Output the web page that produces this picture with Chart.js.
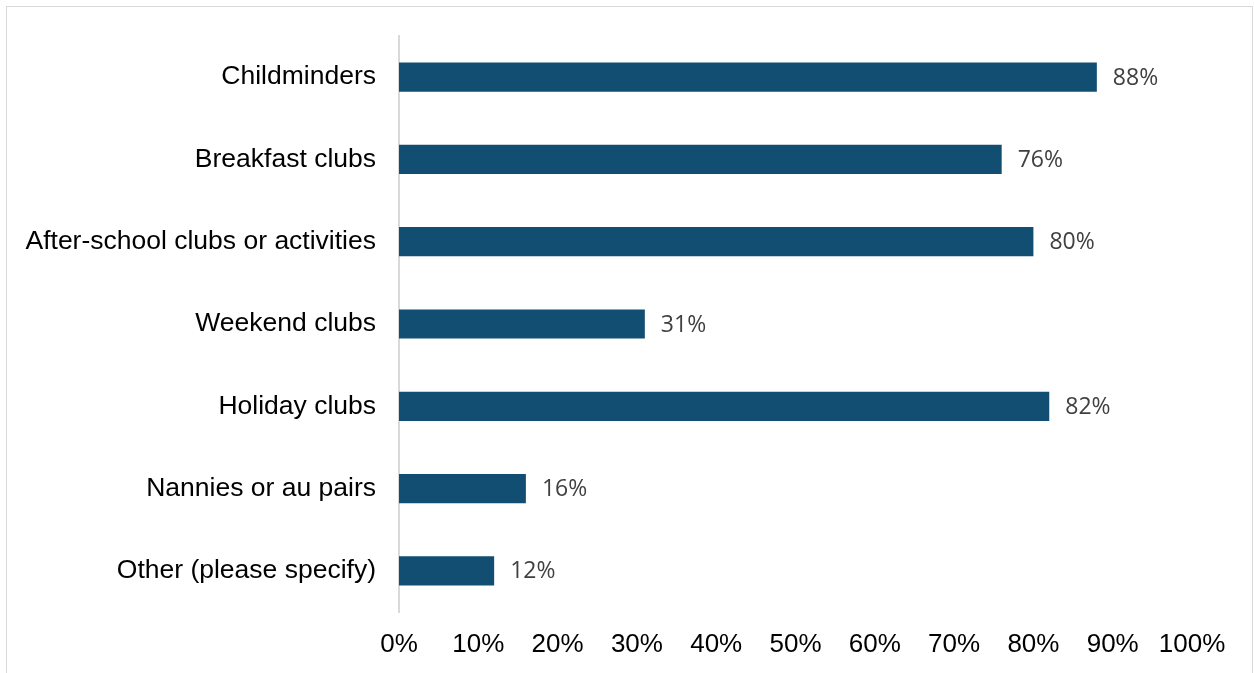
<!DOCTYPE html>
<html>
<head>
<meta charset="utf-8">
<title>Childcare types</title>
<script src="https://cdn.jsdelivr.net/npm/chart.js@4/dist/chart.umd.min.js"></script>
<style>
  html, body { margin: 0; padding: 0; background: #fff; }
  #wrap { position: relative; width: 1254px; height: 673px; }
</style>
</head>
<body>
<div id="wrap"><canvas id="childcare-types" width="1254" height="673"></canvas></div>
<script>
// provider types and the share of respondents for each
const categories = [
  'Childminders',
  'Breakfast clubs',
  'After-school clubs or activities',
  'Weekend clubs',
  'Holiday clubs',
  'Nannies or au pairs',
  'Other (please specify)'
];
const shares = [88, 76, 80, 31, 82, 16, 12];
const axisTicks = [0, 10, 20, 30, 40, 50, 60, 70, 80, 90, 100];

const barColour = '#114e72';

// light grey frame round the chart
const pluginFrame = {
  id: 'frame',
  beforeDraw: (chart) => {
    const ctx = chart.ctx;
    ctx.save();
    ctx.strokeStyle = '#d9d9d9';
    ctx.lineWidth = 1;
    ctx.strokeRect(6.5, 6.5, 1246, 720);
    ctx.restore();
  }
};

// percentage written just past the end of each bar
const pluginValueLabels = {
  id: 'valueLabels',
  afterDatasetsDraw: (chart) => {
    const ctx = chart.ctx;
    const meta = chart.getDatasetMeta(0);
    ctx.save();
    ctx.font = '23px "Open Sans", sans-serif';
    ctx.fillStyle = '#404040';
    ctx.textAlign = 'left';
    ctx.textBaseline = 'middle';
    meta.data.forEach((bar, i) => {
      ctx.fillText(chart.data.datasets[0].data[i] + '%', bar.x + 16, bar.y + 1);
    });
    ctx.restore();
  }
};

const config = {
  type: 'bar',
  data: {
    labels: categories,
    datasets: [{
      data: shares,
      backgroundColor: barColour,
      borderWidth: 0,
      categoryPercentage: 1,
      barPercentage: 0.355
    }]
  },
  options: {
    indexAxis: 'y',
    responsive: false,
    animation: false,
    layout: {
      padding: { left: 0, top: 36, right: 62, bottom: 0 }
    },
    plugins: {
      legend: { display: false },
      tooltip: { enabled: false }
    },
    scales: {
      x: {
        min: 0,
        max: 100,
        afterFit: (scale) => { scale.height = 61; },
        afterBuildTicks: (scale) => {
          scale.ticks = axisTicks.map(v => ({ value: v }));
        },
        grid: { display: false, drawTicks: false },
        border: { display: false },
        ticks: {
          autoSkip: false,
          maxRotation: 0,
          padding: 17,
          color: '#000',
          font: { family: '"Liberation Sans", Arial, sans-serif', size: 26 },
          callback: (v) => v + '%'
        }
      },
      y: {
        afterFit: (scale) => {
          scale.width = 399;
          scale.paddingTop = 0;
          scale.paddingBottom = 0;
        },
        grid: { display: false, drawTicks: false },
        border: { display: true, color: '#d9d9d9', width: 2 },
        ticks: {
          padding: 23,
          color: '#000',
          font: { family: '"Liberation Sans", Arial, sans-serif', size: 26.5 }
        }
      }
    }
  },
  plugins: [pluginFrame, pluginValueLabels]
};

const ctx = document.getElementById('childcare-types').getContext('2d');
window.childcareChart = new Chart(ctx, config);
</script>
</body>
</html>
